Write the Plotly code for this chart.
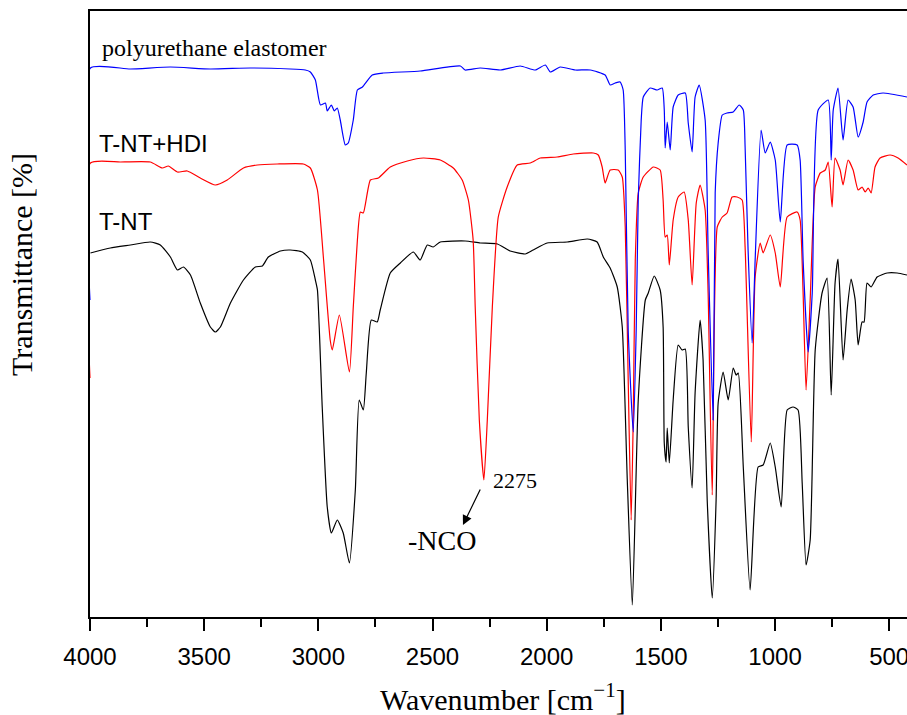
import plotly.graph_objects as go

# ---- data ----
# Wavenumbers [cm^-1] and transmittance (arbitrary, offset units)
pu_wn = [4000, 3998, 3823, 3648, 3473, 3298, 3123, 3057, 3035, 3013, 2991, 2969, 2961, 2943, 2930, 2917, 2904,
         2882, 2869, 2847, 2829, 2807, 2764, 2716, 2554, 2378, 2357, 2291, 2203, 2116, 2050, 2006, 1984, 1941,
         1875, 1809, 1744, 1722, 1700, 1678, 1665, 1656, 1643, 1621, 1608, 1599, 1586, 1577, 1547, 1516, 1494,
         1485, 1481, 1472, 1459, 1446, 1424, 1393, 1380, 1363, 1350, 1332, 1306, 1293, 1271, 1262, 1249, 1231,
         1210, 1183, 1157, 1139, 1131, 1118, 1100, 1087, 1061, 1043, 1021, 999, 977, 947, 903, 890, 877, 855,
         837, 811, 767, 754, 745, 724, 702, 680, 658, 636, 614, 597, 570, 527, 422]
pu_t = [317, 549, 548, 550, 548, 549, 548, 547, 545, 537, 512, 514, 506, 512, 506, 509, 497,
        472, 474, 497, 527, 530, 542, 544, 546, 551, 547, 549, 547, 551, 547, 552, 545, 550,
        547, 547, 542, 532, 534, 535, 527, 467, 287, 185, 287, 417, 497, 520, 529, 527, 529,
        507, 469, 495, 467, 510, 522, 524, 494, 465, 520, 532, 497, 367, 197, 424, 474, 502,
        504, 505, 512, 507, 470, 367, 274, 357, 487, 464, 475, 457, 395, 472, 472, 457, 357, 265,
        324, 507, 517, 457, 507, 529, 477, 517, 510, 480, 495, 515, 522, 524, 520]

hdi_wn = [4000, 3998, 3867, 3736, 3683, 3657, 3617, 3574, 3517, 3451, 3399, 3328, 3267, 3180, 3066, 3035, 3004,
          2978, 2948, 2939, 2908, 2864, 2847, 2829, 2816, 2803, 2772, 2737, 2685, 2610, 2540, 2466, 2409, 2370,
          2343, 2322, 2313, 2295, 2275, 2260, 2238, 2212, 2173, 2129, 2072, 2028, 1954, 1884, 1796, 1774, 1757,
          1744, 1722, 1687, 1669, 1656, 1643, 1630, 1621, 1612, 1599, 1577, 1533, 1503, 1490, 1481, 1472, 1463,
          1446, 1424, 1398, 1380, 1363, 1345, 1328, 1306, 1293, 1275, 1253, 1231, 1210, 1188, 1166, 1144, 1131,
          1104, 1087, 1065, 1052, 1021, 999, 977, 947, 903, 890, 877, 864, 846, 824, 802, 780, 767, 750, 737,
          715, 702, 680, 658, 636, 619, 605, 592, 579, 562, 540, 496, 461, 422]
hdi_t = [239, 454, 455, 455, 449, 451, 445, 446, 439, 432, 437, 449, 452, 453, 453, 449, 427,
         360, 277, 267, 302, 245, 310, 377, 405, 404, 437, 439, 450, 456, 459, 457, 449, 437,
         417, 377, 310, 197, 137, 197, 310, 400, 430, 452, 454, 459, 460, 463, 464, 462, 450,
         434, 447, 447, 440, 390, 237, 97, 197, 357, 424, 440, 450, 447, 417, 380, 382, 352,
         397, 420, 425, 397, 332, 414, 432, 407, 324, 122, 390, 400, 404, 420, 420, 417, 370,
         175, 340, 374, 364, 382, 364, 330, 400, 405, 397, 324, 227, 317, 430, 444, 447, 455, 410, 459,
         447, 432, 457, 447, 427, 430, 425, 429, 424, 450, 459, 462, 459, 452]

tnt_wn = [3998, 3911, 3823, 3736, 3692, 3648, 3617, 3591, 3560, 3517, 3473, 3451, 3429, 3385, 3328, 3276, 3245,
          3219, 3166, 3123, 3070, 3035, 3013, 3004, 2983, 2961, 2943, 2917, 2891, 2864, 2838, 2821, 2803, 2790,
          2768, 2742, 2729, 2685, 2641, 2584, 2554, 2523, 2497, 2466, 2357, 2291, 2216, 2160, 2094, 2059, 1998,
          1910, 1822, 1779, 1752, 1722, 1691, 1669, 1647, 1625, 1599, 1568, 1555, 1529, 1503, 1490, 1485, 1477,
          1472, 1463, 1446, 1424, 1407, 1393, 1380, 1363, 1350, 1328, 1315, 1297, 1275, 1258, 1249, 1227, 1205,
          1183, 1170, 1161, 1139, 1109, 1074, 1052, 1021, 999, 973, 947, 921, 899, 881, 864, 846, 824, 794, 772,
          754, 737, 724, 702, 684, 667, 649, 636, 619, 610, 597, 579, 553, 509, 465, 422]
tnt_t = [364, 369, 372, 375, 372, 360, 347, 350, 342, 314, 290, 285, 290, 314, 337, 350, 351,
         360, 366, 367, 365, 357, 337, 327, 210, 110, 84, 97, 84, 54, 127, 217, 207, 244,
         297, 295, 307, 344, 354, 365, 357, 372, 370, 375, 376, 374, 373, 366, 363, 367, 374,
         375, 378, 375, 360, 349, 330, 290, 137, 12, 217, 317, 324, 341, 327, 290, 174, 155,
         189, 154, 217, 272, 267, 268, 190, 129, 224, 297, 257, 117, 19, 117, 214, 245, 217,
         249, 242, 244, 150, 27, 150, 152, 174, 150, 110, 207, 210, 207, 134, 52, 77, 267, 324, 339,
         222, 334, 358, 257, 307, 338, 317, 272, 295, 295, 334, 330, 340, 344, 344, 342]

x_ticks = [4000, 3500, 3000, 2500, 2000, 1500, 1000, 500]
x_tick_labels = ["4000", "3500", "3000", "2500", "2000", "1500", "1000", "500"]

SERIF = "Times New Roman, Liberation Serif, serif"
SANS = "Arial, Liberation Sans, sans-serif"

line_style = dict(width=1.2, shape="spline", smoothing=0.5)

fig = go.Figure()
fig.add_trace(go.Scatter(x=tnt_wn, y=tnt_t, mode="lines", name="T-NT",
                         line=dict(color="#000000", **line_style)))
fig.add_trace(go.Scatter(x=hdi_wn, y=hdi_t, mode="lines", name="T-NT+HDI",
                         line=dict(color="#FF0000", **line_style)))
fig.add_trace(go.Scatter(x=pu_wn, y=pu_t, mode="lines", name="polyurethane elastomer",
                         line=dict(color="#0000FF", **line_style)))

fig.update_layout(
    width=907, height=715,
    margin=dict(l=90, r=0, t=11, b=98, autoexpand=False),
    plot_bgcolor="white", paper_bgcolor="white",
    showlegend=False,
    xaxis=dict(range=[4000, 422], tickvals=x_ticks, ticktext=x_tick_labels,
               automargin=False, ticklabeloverflow="allow", ticklabelstandoff=5,
               showgrid=False, zeroline=False, showline=True, linecolor="black",
               linewidth=2, mirror=True, ticks="outside", ticklen=12, tickwidth=2,
               tickcolor="black", tickfont=dict(family=SANS, size=24, color="black"),
               minor=dict(dtick=250, tick0=0, ticks="outside", ticklen=8, tickwidth=2,
                          tickcolor="black", showgrid=False)),
    yaxis=dict(range=[0, 606], showticklabels=False, ticks="", showgrid=False,
               automargin=False,
               zeroline=False, showline=True, linecolor="black", linewidth=2,
               layer="below traces"),
)

ann = [
    dict(text="polyurethane elastomer", x=0.0122, y=0.939, xanchor="left", yanchor="middle",
         font=dict(family=SERIF, size=24, color="black")),
    dict(text="T-NT+HDI", x=0.0085, y=0.782, xanchor="left", yanchor="middle",
         font=dict(family=SANS, size=24, color="black")),
    dict(text="T-NT", x=0.0085, y=0.652, xanchor="left", yanchor="middle",
         font=dict(family=SANS, size=24, color="black")),
    dict(text="2275", x=0.520, y=0.226, xanchor="center", yanchor="middle",
         font=dict(family=SERIF, size=22, color="black")),
    dict(text="-NCO", x=0.431, y=0.127, xanchor="center", yanchor="middle",
         font=dict(family=SERIF, size=28, color="black")),
    dict(text="Transmittance [%]", x=-0.0832, y=0.581, xanchor="center", yanchor="middle",
         textangle=-90, font=dict(family=SERIF, size=30, color="black")),
    dict(text="Wavenumber [cm<sup>−1</sup>]", x=0.5055, y=-0.132, xanchor="center", yanchor="middle",
         font=dict(family=SERIF, size=30, color="black")),
]
for a in ann:
    fig.add_annotation(xref="paper", yref="paper", showarrow=False, **a)

fig.add_annotation(xref="paper", yref="paper", x=0.4565, y=0.1518, ax=18, ay=-37,
                   text="", showarrow=True, arrowhead=2, arrowsize=1.6, arrowwidth=1.2,
                   arrowcolor="black")

fig.write_html("out.html",
               config={"displayModeBar": False},
               post_script="document.body.style.margin='0px';document.body.style.overflow='hidden';")
